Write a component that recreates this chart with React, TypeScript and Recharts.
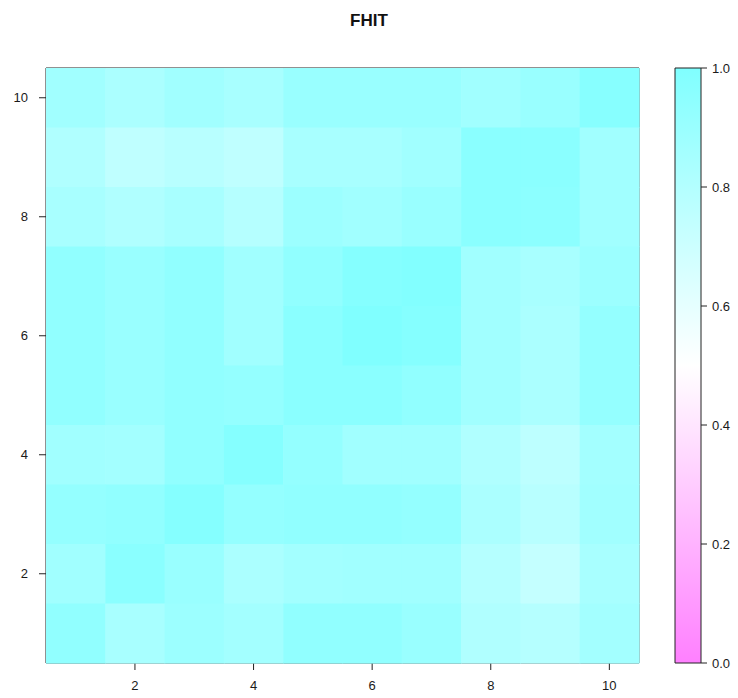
import { ScatterChart, Scatter, XAxis, YAxis, BarChart, Bar } from 'recharts'

// grid positions (lattice levelplot of a 10x10 matrix)
const columns = [1, 2, 3, 4, 5, 6, 7, 8, 9, 10]
const rows = [10, 9, 8, 7, 6, 5, 4, 3, 2, 1]
const axisTicks = [2, 4, 6, 8, 10]
const scaleTicks = [0, 0.2, 0.4, 0.6, 0.8, 1]

// values, top row (y = 10) first, columns 1..10
const row10 = [0.87, 0.83, 0.87, 0.84, 0.9, 0.9, 0.9, 0.87, 0.9, 0.97]
const row9 = [0.81, 0.75, 0.78, 0.75, 0.84, 0.84, 0.87, 0.96, 0.96, 0.87]
const row8 = [0.84, 0.81, 0.84, 0.79, 0.89, 0.87, 0.9, 0.96, 0.95, 0.87]
const row7 = [0.93, 0.9, 0.93, 0.87, 0.93, 0.98, 0.99, 0.87, 0.84, 0.89]
const row6 = [0.93, 0.9, 0.93, 0.87, 0.96, 1.0, 0.98, 0.87, 0.83, 0.92]
const row5 = [0.93, 0.9, 0.93, 0.92, 0.96, 0.96, 0.93, 0.87, 0.83, 0.92]
const row4 = [0.87, 0.86, 0.93, 0.98, 0.92, 0.87, 0.87, 0.81, 0.76, 0.86]
const row3 = [0.92, 0.93, 0.98, 0.92, 0.93, 0.93, 0.92, 0.83, 0.78, 0.87]
const row2 = [0.87, 0.96, 0.9, 0.83, 0.86, 0.87, 0.87, 0.79, 0.73, 0.84]
const row1 = [0.93, 0.84, 0.89, 0.86, 0.93, 0.93, 0.9, 0.81, 0.79, 0.86]
const matrix = [row10, row9, row8, row7, row6, row5, row4, row3, row2, row1]

const cells = rows.flatMap((y, i) =>
  columns.map((x, j) => ({ x, y, value: matrix[i][j] }))
)

// cm.colors, reversed: magenta at 0, white at 0.5, cyan at 1
function cmColor(v: number) {
  if (v >= 0.5) {
    const r = Math.round(255 * (1 - (v - 0.5)))
    return `rgb(${r},255,255)`
  }
  const g = Math.round(255 * (1 - (0.5 - v)))
  return `rgb(255,${g},255)`
}

const PLOT_W = 593
const PLOT_H = 595
const CELL_W = PLOT_W / 10
const CELL_H = PLOT_H / 10

const tickStyle = { fontSize: 13, fill: '#1a1a1a', fontFamily: 'Liberation Sans, Arial, sans-serif' }
const lineStyle = { stroke: '#222' }

function Cell(props: any) {
  const { cx, cy, payload } = props
  return (
    <rect
      x={cx - CELL_W / 2}
      y={cy - CELL_H / 2}
      width={CELL_W + 0.6}
      height={CELL_H + 0.6}
      fill={cmColor(payload.value)}
      stroke="none"
    />
  )
}

const noLabel = () => <g />

export default function App() {
  return (
    <div style={{ position: 'relative', width: 738, height: 698, background: '#fff' }}>
      <style>{'body{margin:0}'}</style>
      <div
        style={{
          position: 'absolute',
          left: 0,
          top: 11,
          width: 738,
          textAlign: 'center',
          fontFamily: 'Liberation Sans, Arial, sans-serif',
          fontWeight: 'bold',
          fontSize: 17,
          color: '#111',
        }}
      >
        FHIT
      </div>
      <div style={{ position: 'absolute', left: 0, top: 0 }}>
        <ScatterChart width={650} height={698} margin={{ top: 60, right: 5, bottom: 5, left: 10 }}>
          <XAxis
            type="number"
            dataKey="x"
            domain={[0.5, 10.5]}
            ticks={axisTicks}
            interval={0}
            height={30}
            tick={tickStyle}
            tickSize={7}
            tickMargin={11}
            axisLine={lineStyle}
            tickLine={lineStyle}
          />
          <XAxis
            xAxisId="top"
            orientation="top"
            type="number"
            domain={[0.5, 10.5]}
            ticks={axisTicks}
            interval={0}
            height={8}
            tick={noLabel}
            tickSize={7}
            axisLine={lineStyle}
            tickLine={lineStyle}
          />
          <YAxis
            type="number"
            dataKey="y"
            domain={[0.5, 10.5]}
            ticks={axisTicks}
            interval={0}
            width={36}
            tick={tickStyle}
            tickSize={7}
            tickMargin={11}
            axisLine={lineStyle}
            tickLine={lineStyle}
          />
          <YAxis
            yAxisId="right"
            orientation="right"
            type="number"
            domain={[0.5, 10.5]}
            ticks={axisTicks}
            interval={0}
            width={6}
            tick={noLabel}
            tickSize={7}
            axisLine={lineStyle}
            tickLine={lineStyle}
          />
          <Scatter data={cells} shape={Cell} isAnimationActive={false} />
        </ScatterChart>
      </div>
      <div style={{ position: 'absolute', left: 640, top: 0 }}>
        <BarChart
          width={98}
          height={698}
          data={[{ name: 'scale', value: 1 }]}
          margin={{ top: 68, right: 0, bottom: 35, left: 35 }}
          barCategoryGap={0}
        >
          <defs>
            <linearGradient id="cmGrad" x1="0" y1="0" x2="0" y2="1">
              <stop offset="0%" stopColor={cmColor(1)} />
              <stop offset="50%" stopColor={cmColor(0.5)} />
              <stop offset="100%" stopColor={cmColor(0)} />
            </linearGradient>
          </defs>
          <XAxis dataKey="name" hide />
          <YAxis
            orientation="right"
            type="number"
            domain={[0, 1]}
            ticks={scaleTicks}
            interval={0}
            width={37}
            tick={tickStyle}
            tickSize={6}
            tickMargin={5}
            tickFormatter={(v: number) => v.toFixed(1)}
            axisLine={false}
            tickLine={lineStyle}
          />
          <Bar dataKey="value" fill="url(#cmGrad)" stroke="#222" isAnimationActive={false} />
        </BarChart>
      </div>
    </div>
  )
}
